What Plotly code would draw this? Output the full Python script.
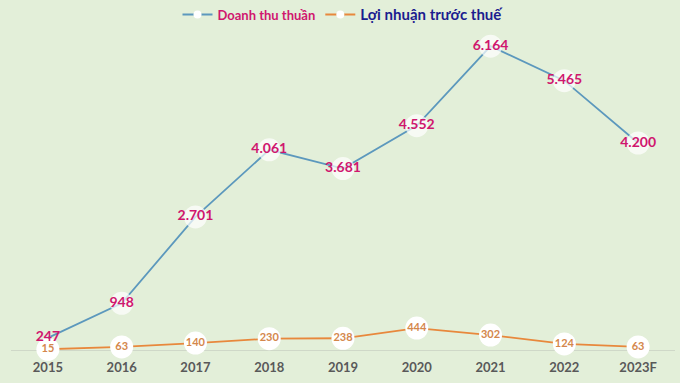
import plotly.graph_objects as go

years = ["2015", "2016", "2017", "2018", "2019", "2020", "2021", "2022", "2023F"]
revenue = [247, 948, 2701, 4061, 3681, 4552, 6164, 5465, 4200]
profit = [15, 63, 140, 230, 238, 444, 302, 124, 63]

def fmt(v):
    return f"{v:,}".replace(",", ".")

BLUE = "#5c98bd"
ORANGE = "#e8883c"
RED_TXT = "#d0166e"
ORG_TXT = "#d4874c"
FONT = "Lato"

fig = go.Figure()
fig.add_trace(go.Scatter(
    x=years, y=profit, mode="lines+markers+text",
    line=dict(color=ORANGE, width=1.8),
    marker=dict(size=23, color="white", line=dict(width=0)),
    text=[fmt(v) for v in profit], textposition="middle center",
    textfont=dict(family=FONT, size=11, color=ORG_TXT, weight="bold"),
    showlegend=False, hoverinfo="skip", cliponaxis=False,
))
# first revenue point sits just above the first profit point: no disc there
rev_sizes = [0] + [23] * (len(revenue) - 1)
fig.add_trace(go.Scatter(
    x=years, y=revenue, mode="lines+markers+text",
    line=dict(color=BLUE, width=1.8),
    marker=dict(size=rev_sizes, color="white", line=dict(width=0)),
    text=[fmt(v) for v in revenue], textposition="middle center",
    textfont=dict(family=FONT, size=14, color=RED_TXT, weight="bold"),
    showlegend=False, hoverinfo="skip", cliponaxis=False,
))
# legend entries
fig.add_trace(go.Scatter(
    x=[None], y=[None], mode="lines+markers",
    line=dict(color=BLUE, width=2), marker=dict(size=8, color="white"),
    name=f"<span style='color:{RED_TXT};font-size:13px'><b>Doanh thu thuần</b></span>",
))
fig.add_trace(go.Scatter(
    x=[None], y=[None], mode="lines+markers",
    line=dict(color=ORANGE, width=2), marker=dict(size=8, color="white"),
    name="<span style='color:#1c1c8f;font-size:15px'><b>Lợi nhuận trước thuế</b></span>",
))

fig.update_layout(
    width=680, height=383,
    paper_bgcolor="#e3efd9", plot_bgcolor="#e3efd9",
    margin=dict(l=11, r=5, t=5, b=33, autoexpand=False),
    font=dict(family=FONT),
    legend=dict(orientation="h", x=0.5, xanchor="center",
                yref="container", y=1 - 15 / 383, yanchor="middle",
                font=dict(size=14, family=FONT), bgcolor="rgba(0,0,0,0)",
                itemwidth=30, tracegroupgap=0, traceorder="normal"),
    xaxis=dict(type="category", range=[-0.5, 8.5], showgrid=False, zeroline=False,
               showline=False, ticks="", ticklabelstandoff=8,
               tickfont=dict(family=FONT, size=13, color="#595959", weight="bold")),
    yaxis=dict(range=[0, 7000], showgrid=False, zeroline=True, zerolinecolor="#cfd8c8",
               zerolinewidth=1, showticklabels=False, ticks=""),
)
fig.write_html("out.html", config={"displayModeBar": False},
               post_script="document.body.style.margin='0';document.body.style.background='#e3efd9';")
